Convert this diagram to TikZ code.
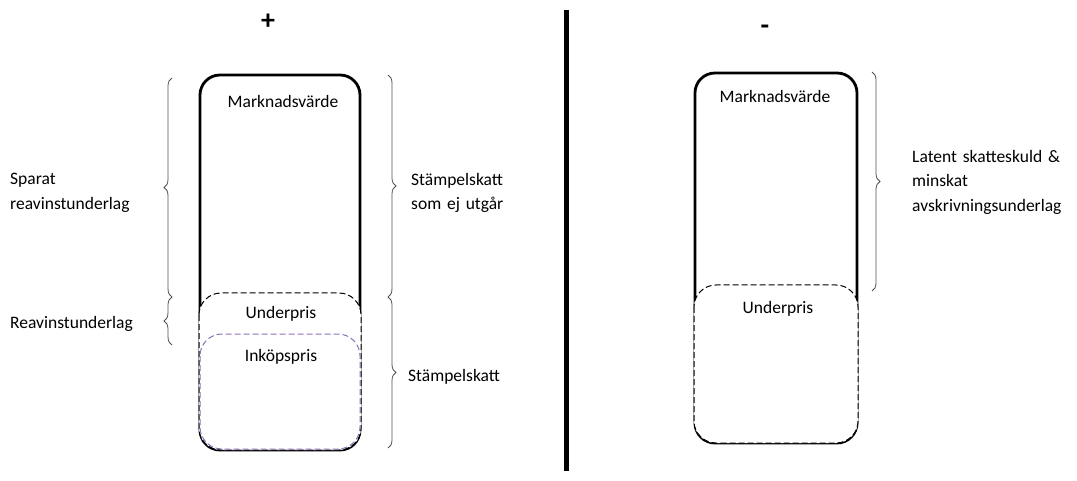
\documentclass[tikz,border=0pt]{standalone}
\usepackage{fontspec}
\setmainfont{Carlito}
\usetikzlibrary{positioning, decorations.pathreplacing}
\definecolor{lilac}{RGB}{140,115,185}
\definecolor{bracegray}{RGB}{80,80,80}
\tikzset{
  valuebox/.style={line width=2.8pt, rounded corners=20pt, fill=white},
  partbox/.style={line width=1pt, dash pattern=on 6pt off 3pt, rounded corners=22pt},
  brc/.style={bracegray, line width=0.8pt, decorate, decoration={brace, amplitude=8pt}},
  lbl/.style={font=\fontsize{17.5}{20}\selectfont, inner sep=0pt},
  side/.style={lbl, align=left, anchor=west, text width=170pt, font=\fontsize{17.5}{24.5}\selectfont}
}
\begin{document}
\begin{tikzpicture}[x=1pt, y=-1pt]
		\useasboundingbox (0,0) rectangle (1077,481);
		\fill[white] (0,0) rectangle (1077,481);
		
		% Signs over the two columns
		\node (plus) [font=\fontsize{28}{28}\selectfont\bfseries] at (268,22) {+};
		\node (minus) [font=\fontsize{28}{28}\selectfont\bfseries] at (765,30) {-};
		
		% Divider
		\coordinate (divtop) at (566,10);
		\coordinate (divbot) at (566,471);
		\draw[line width=5pt] (divtop) -- (divbot);
		
		% Left column: market value with underprice and purchase price
		\draw[valuebox] (200,75) rectangle (360,450);
		\draw[partbox, fill=white] (199,293) rectangle (361,450);
		\draw[partbox, lilac] (200,334) rectangle (360,449);
		\node (mvL) [lbl] at (283,101) {Marknadsvärde};
		\node (upL) [lbl] at (281,314) {Underpris};
		\node (ip) [lbl] at (281,357) {Inköpspris};
		
		% Braces on the left side
		\coordinate (lb1) at (172,78);
		\coordinate (lb2) at (172,297);
		\coordinate (lb3) at (172,345);
		\draw[brc] (lb2) -- (lb1);
		\draw[brc] (lb3) -- (lb2);
		\node (sparat) [side] at (10,193) {Sparat\\reavinstunderlag};
		\node (reavinst) [side] at (10,324) {Reavinstunderlag};
		
		% Braces on the right side
		\coordinate (rb1) at (388,75);
		\coordinate (rb2) at (388,297);
		\coordinate (rb3) at (388,448);
		\draw[brc] (rb1) -- (rb2);
		\draw[brc] (rb2) -- (rb3);
		\node (stampej) [side] at (411,193) {Stämpelskatt\\som ej utgår};
		\node (stamp) [side] at (408,377) {Stämpelskatt};
		
		% Right column: market value with underprice
		\draw[valuebox] (695,73) rectangle (857,443);
		\draw[partbox, fill=white] (694,285) rectangle (858,443);
		\node (mvR) [lbl] at (775,96) {Marknadsvärde};
		\node (upR) [lbl] at (778,309) {Underpris};
		
		\coordinate (rr1) at (872,72);
		\coordinate (rr2) at (872,291);
		\draw[brc] (rr1) -- (rr2);
		\node (latent) [side] at (912,182) {Latent skatteskuld \&\\minskat\\avskrivningsunderlag};
	\end{tikzpicture}
\end{document}
